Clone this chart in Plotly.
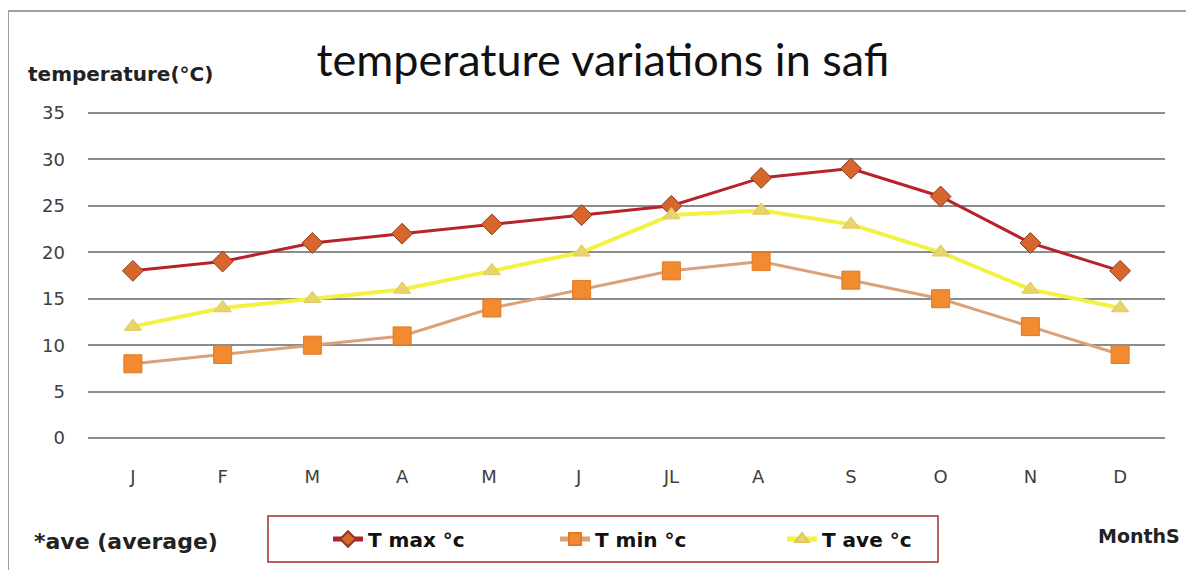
import plotly.graph_objects as go

months = ["J", "F", "M", "A", "M ", "J ", "JL", "A ", "S", "O", "N", "D"]
t_max = [18, 19, 21, 22, 23, 24, 25, 28, 29, 26, 21, 18]
t_min = [8, 9, 10, 11, 14, 16, 18, 19, 17, 15, 12, 9]
t_ave = [12, 14, 15, 16, 18, 20, 24, 24.5, 23, 20, 16, 14]
y_ticks = [0, 5, 10, 15, 20, 25, 30, 35]

TFONT = "Lato"
LFONT = "DejaVu Sans"

# page offset (body margin) -> figure coordinates = screen - 8
OFF = 8
L, R, T, B = 88 - OFF, 1165 - OFF, 111 - OFF, 440 - OFF
W = R - L
H = B - T


def px(x):
    return (x - OFF - L) / W


def py(y):
    return (B - (y - OFF)) / H


fig = go.Figure()
fig.add_trace(go.Scatter(
    x=months, y=t_max, name="T max °c", mode="lines+markers",
    line=dict(color="#b8222a", width=3),
    marker=dict(symbol="diamond", size=16, color="#d8662c",
                line=dict(color="#8a3a20", width=1)),
))
fig.add_trace(go.Scatter(
    x=months, y=t_min, name="T min °c", mode="lines+markers",
    line=dict(color="#d9a27a", width=3),
    marker=dict(symbol="square", size=18, color="#f28a30",
                line=dict(color="#e07a28", width=1)),
))
fig.add_trace(go.Scatter(
    x=months, y=t_ave, name="T ave °c", mode="lines+markers",
    line=dict(color="#f2f243", width=4),
    marker=dict(symbol="triangle-up", size=15, color="#e8d46a",
                line=dict(color="#e0c860", width=1)),
))

fig.update_layout(
    width=1194, height=570,
    margin=dict(l=L, r=1194 - R, t=T, b=570 - B, autoexpand=False),
    paper_bgcolor="white", plot_bgcolor="white",
    font=dict(family=LFONT, color="#404040"),
    title=dict(text="temperature variations in safi", x=px(603), xanchor="center",
               xref="paper",
               y=1 - (60 - OFF) / 570, yanchor="middle",
               font=dict(family=TFONT, size=45, color="#111111")),
    showlegend=True,
    legend=dict(orientation="h", x=px(328), xanchor="left", y=py(539), yanchor="middle",
                borderwidth=0, bgcolor="rgba(0,0,0,0)",
                entrywidth=182, entrywidthmode="pixels",
                font=dict(family=LFONT, size=20, color="#111111", weight="bold"),
                itemsizing="constant"),
    xaxis=dict(type="category", range=[-0.5, len(months) - 0.5],
               showgrid=False, zeroline=False, showline=False,
               ticks="", ticklabelstandoff=24,
               tickfont=dict(family=LFONT, size=18, color="#404040")),
    yaxis=dict(range=[-0.2, 35.2], tickvals=y_ticks, showgrid=True, gridcolor="#8c8c8c",
               gridwidth=2, zeroline=False, showline=False, ticks="",
               ticklabelstandoff=22,
               tickfont=dict(family=LFONT, size=18, color="#404040")),
)

# outer frame
fig.add_shape(type="rect", xref="paper", yref="paper",
              x0=px(8), x1=px(1190), y0=py(600), y1=py(11),
              line=dict(color="#a0a0a0", width=2), layer="below")
# legend frame
fig.add_shape(type="rect", xref="paper", yref="paper",
              x0=px(268), x1=px(938), y0=py(562), y1=py(516),
              line=dict(color="#a03030", width=1.5), layer="below")

fig.add_annotation(text="<b>temperature(°C)</b>", xref="paper", yref="paper",
                   x=px(26), xanchor="left", y=py(74), yanchor="middle",
                   showarrow=False, font=dict(family=LFONT, size=20, color="#222222"))
fig.add_annotation(text="<b>*ave (average)</b>", xref="paper", yref="paper",
                   x=px(32), xanchor="left", y=py(541), yanchor="middle",
                   showarrow=False, font=dict(family=LFONT, size=22, color="#222222"))
fig.add_annotation(text="<b>MonthS</b>", xref="paper", yref="paper",
                   x=px(1182), xanchor="right", y=py(536), yanchor="middle",
                   showarrow=False, font=dict(family=LFONT, size=19, color="#222222"))

fig.write_html("out.html")
